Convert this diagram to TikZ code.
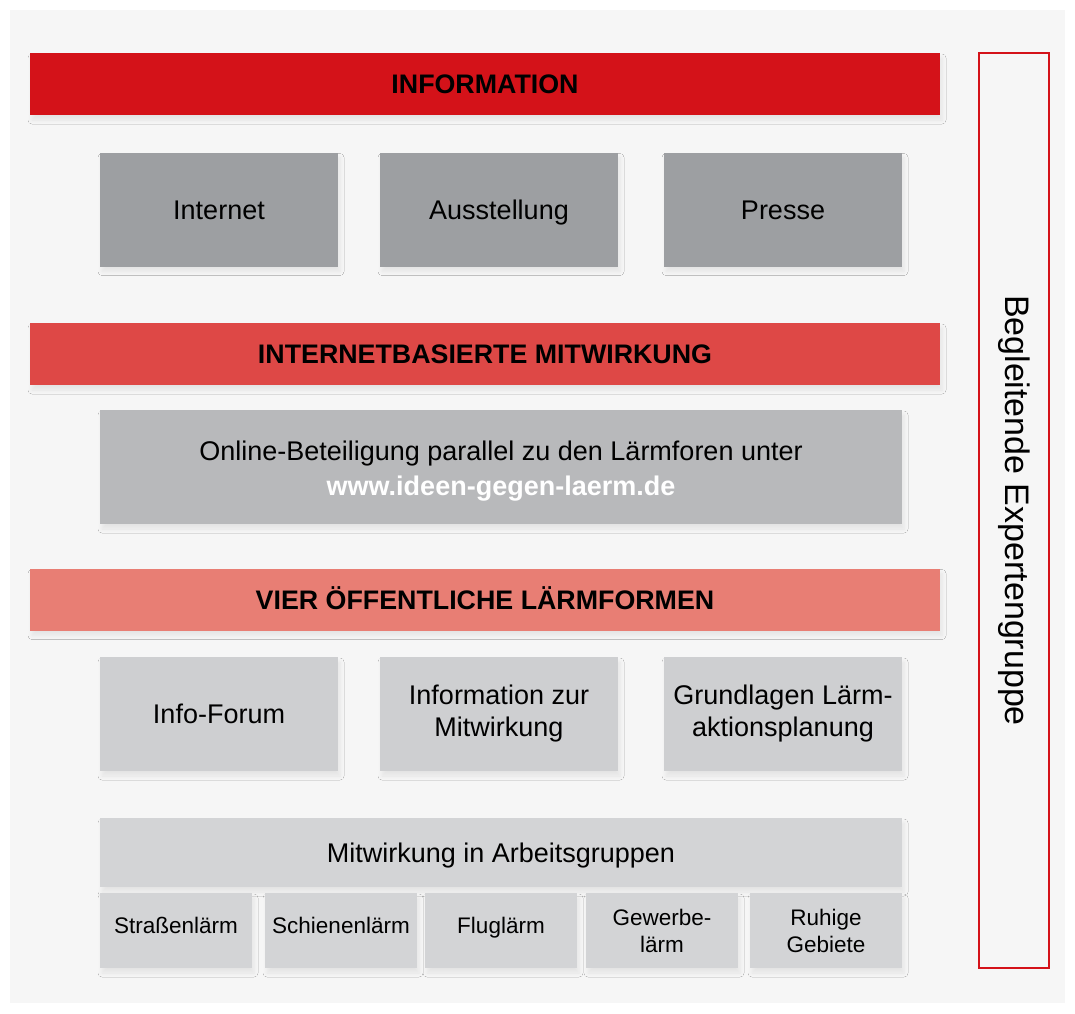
\documentclass[tikz,border=0pt]{standalone}
\usepackage{fontspec}
\setmainfont{Liberation Sans}
\usetikzlibrary{shadows.blur}
\definecolor{rotA}{RGB}{212,18,25}
\definecolor{rotB}{RGB}{222,72,70}
\definecolor{rotC}{RGB}{232,126,116}
\definecolor{grauA}{RGB}{157,159,162}
\definecolor{grauB}{RGB}{184,185,187}
\definecolor{grauC}{RGB}{206,207,209}
\definecolor{grauD}{RGB}{211,212,214}
\definecolor{hgrund}{RGB}{246,246,246}
\tikzset{
	schatten/.style={blur shadow={shadow xshift=1pt,shadow yshift=-2.5pt,shadow blur steps=6,shadow blur radius=2pt,shadow opacity=7}},
	einzeilig/.style={text height=9.6pt,text depth=0pt},
	hoch/.style={text height=8pt,text depth=5pt},
	mehrzeilig/.style={},
	balken/.style={schatten,einzeilig,inner sep=0pt,minimum width=455pt,minimum height=31pt,font=\bfseries\fontsize{13.4}{16}\selectfont},
	kasten/.style={schatten,inner sep=0pt,align=center,minimum width=119pt,minimum height=57pt,font=\fontsize{13.5}{16}\selectfont},
	klein/.style={schatten,inner sep=0pt,align=center,minimum width=76pt,minimum height=37.5pt,font=\fontsize{11.25}{13.5}\selectfont}
}
\begin{document}
\begin{tikzpicture}[x=0.5pt,y=-0.5pt]
	\useasboundingbox (0,0) rectangle (1075,1013);
	\fill[white] (0,0) rectangle (1075,1013);
	\fill[hgrund] (10,10) rectangle (1065,1003);
	%Balken
	\node[balken,fill=rotA] (information) at (485,84) {INFORMATION};
	\node[balken,fill=rotB] (internetbasiert) at (485,354) {INTERNETBASIERTE MITWIRKUNG};
	\node[balken,fill=rotC] (laermforen) at (485,599.5) {VIER ÖFFENTLICHE LÄRMFORMEN};
	%Information
	\foreach \x/\t/\n in {219/Internet/internet,499/Ausstellung/ausstellung,783/Presse/presse}
	\node[kasten,einzeilig,fill=grauA] (\n) at (\x,209.5) {\t};
	%Online
	\node[kasten,fill=grauB,minimum width=401pt] (online) at (501,467)
	{\rule{0pt}{13.5pt}Online-Beteiligung parallel zu den Lärmforen unter\\[1.5pt]
		\textcolor{white}{\bfseries www.ideen-gegen-laerm.de}};
	%Foren
	\foreach \x/\t/\n in {219/{Info-Forum}/forum,499/{Information zur\\Mitwirkung}/mitwirkung,783/{Grundlagen Lärm-\\aktionsplanung}/grundlagen}
	\node[kasten,fill=grauC] (\n) at (\x,714) {\t};
	\node[kasten,einzeilig,fill=grauD,minimum width=401pt,minimum height=34.5pt] (arbeitsgruppen) at (501,852.5) {Mitwirkung in Arbeitsgruppen};
	\foreach \x/\t/\n/\s in {176/{Straßenlärm}/strasse/hoch,341/{Schienenlärm}/schiene/hoch,501/{Fluglärm}/flug/hoch,662/{Gewerbe-\\lärm}/gewerbe/mehrzeilig,826/{Ruhige\\Gebiete}/ruhig/mehrzeilig}
	\node[klein,\s,fill=grauD] (\n) at (\x,930.5) {\t};
	%Expertengruppe
	\node[draw=rotA,line width=1pt,fill=hgrund,minimum width=35pt,minimum height=457.5pt,inner sep=0pt] (experten) at (1014,510.5) {};
	\node[rotate=-90,font=\fontsize{17}{20}\selectfont] (expertentext) at (experten.center) {Begleitende Expertengruppe};
\end{tikzpicture}
\end{document}
